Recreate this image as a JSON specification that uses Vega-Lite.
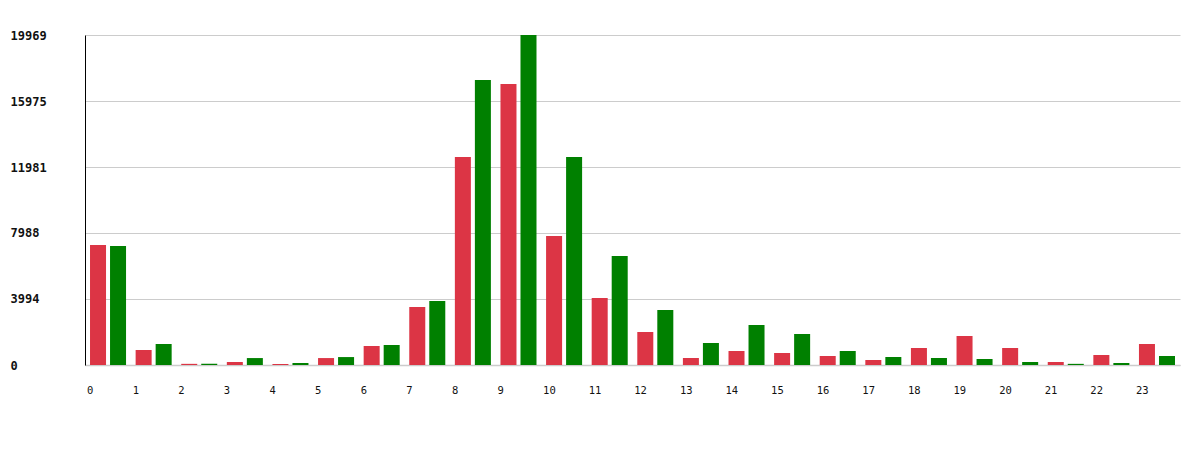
{
  "$schema": "https://vega.github.io/schema/vega-lite/v6.json",
  "width": 1095,
  "height": 330,
  "autosize": {"type": "none"},
  "padding": {"left": 85, "top": 35, "right": 20, "bottom": 85},
  "background": "white",
  "config": {"view": {"stroke": null}},
  "data": {"values": [
    {"hour": 0, "series": "red", "value": 7262}, {"hour": 0, "series": "green", "value": 7201},
    {"hour": 1, "series": "red", "value": 908}, {"hour": 1, "series": "green", "value": 1271},
    {"hour": 2, "series": "red", "value": 70}, {"hour": 2, "series": "green", "value": 80},
    {"hour": 3, "series": "red", "value": 180}, {"hour": 3, "series": "green", "value": 420},
    {"hour": 4, "series": "red", "value": 60}, {"hour": 4, "series": "green", "value": 120},
    {"hour": 5, "series": "red", "value": 420}, {"hour": 5, "series": "green", "value": 480},
    {"hour": 6, "series": "red", "value": 1150}, {"hour": 6, "series": "green", "value": 1210},
    {"hour": 7, "series": "red", "value": 3510}, {"hour": 7, "series": "green", "value": 3873},
    {"hour": 8, "series": "red", "value": 12586}, {"hour": 8, "series": "green", "value": 17245},
    {"hour": 9, "series": "red", "value": 17003}, {"hour": 9, "series": "green", "value": 19969},
    {"hour": 10, "series": "red", "value": 7806}, {"hour": 10, "series": "green", "value": 12586},
    {"hour": 11, "series": "red", "value": 4054}, {"hour": 11, "series": "green", "value": 6596},
    {"hour": 12, "series": "red", "value": 1997}, {"hour": 12, "series": "green", "value": 3328},
    {"hour": 13, "series": "red", "value": 424}, {"hour": 13, "series": "green", "value": 1331},
    {"hour": 14, "series": "red", "value": 847}, {"hour": 14, "series": "green", "value": 2420},
    {"hour": 15, "series": "red", "value": 726}, {"hour": 15, "series": "green", "value": 1876},
    {"hour": 16, "series": "red", "value": 545}, {"hour": 16, "series": "green", "value": 847},
    {"hour": 17, "series": "red", "value": 303}, {"hour": 17, "series": "green", "value": 484},
    {"hour": 18, "series": "red", "value": 1029}, {"hour": 18, "series": "green", "value": 424},
    {"hour": 19, "series": "red", "value": 1755}, {"hour": 19, "series": "green", "value": 363},
    {"hour": 20, "series": "red", "value": 1029}, {"hour": 20, "series": "green", "value": 182},
    {"hour": 21, "series": "red", "value": 182}, {"hour": 21, "series": "green", "value": 70},
    {"hour": 22, "series": "red", "value": 605}, {"hour": 22, "series": "green", "value": 121},
    {"hour": 23, "series": "red", "value": 1271}, {"hour": 23, "series": "green", "value": 545}
  ]},
  "mark": {"type": "bar"},
  "encoding": {
    "x": {
      "field": "hour", "type": "ordinal",
      "scale": {"paddingInner": 0.21, "paddingOuter": 0.11},
      "axis": {
        "title": null, "labelAngle": 0,
        "labelAlign": "left", "labelOffset": -21, "labelBaseline": "middle",
        "ticks": false, "tickSize": 0, "labelPadding": 25,
        "labelFont": "DejaVu Sans Mono", "labelFontSize": 10.5, "labelColor": "#111",
        "domainColor": "#cccccc", "domainWidth": 1.5, "grid": false
      }
    },
    "xOffset": {
      "field": "series", "type": "nominal",
      "scale": {"domain": ["red", "green"], "paddingInner": 0.2}
    },
    "y": {
      "field": "value", "type": "quantitative",
      "scale": {"domain": [0, 19969], "nice": false},
      "axis": {
        "title": null, "values": [0, 3994, 7988, 11981, 15975, 19969], "format": "d",
        "labelAlign": "left", "labelPadding": 75, "ticks": false, "tickSize": 0,
        "labelFont": "DejaVu Sans Mono", "labelFontSize": 12, "labelFontWeight": "bold",
        "labelColor": "#111", "labelBaseline": "middle",
        "domainColor": "#000", "domainWidth": 1,
        "grid": true, "gridColor": "#cccccc", "gridWidth": 1
      }
    },
    "color": {
      "field": "series", "type": "nominal",
      "scale": {"domain": ["red", "green"], "range": ["#dc3545", "#008000"]},
      "legend": null
    }
  }
}
